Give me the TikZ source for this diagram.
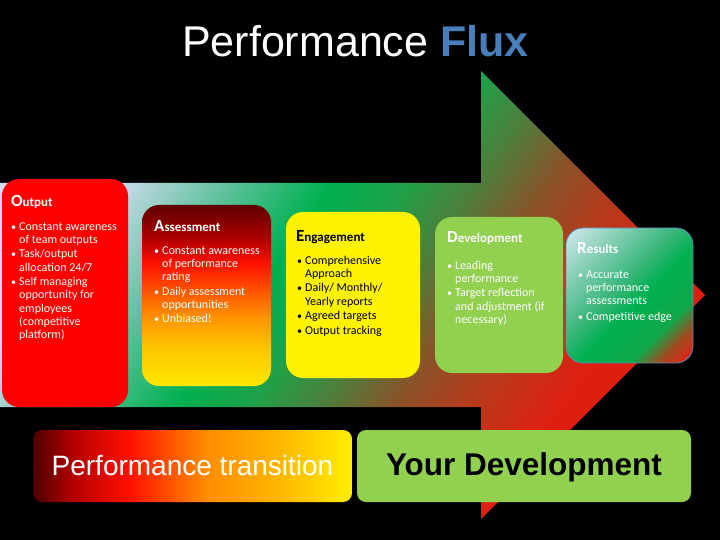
\documentclass[tikz,border=0pt]{standalone}
\usepackage{fontspec}
\setmainfont{Carlito}
\newfontfamily\arialf{Liberation Sans}
\definecolor{lav}{HTML}{D4DCF2}
\definecolor{tealA}{HTML}{5CC09A}
\definecolor{grnA}{HTML}{00B050}
\definecolor{grnB}{HTML}{20A048}
\definecolor{oliveA}{HTML}{4E7E3C}
\definecolor{brownA}{HTML}{8A5228}
\definecolor{brredA}{HTML}{B83A1C}
\definecolor{redA}{HTML}{E01E10}
\definecolor{asA}{HTML}{600000}
\definecolor{asB}{HTML}{B00000}
\definecolor{asC}{HTML}{FF1000}
\definecolor{asD}{HTML}{FF6000}
\definecolor{asE}{HTML}{FF9A00}
\definecolor{asF}{HTML}{FFC800}
\definecolor{asG}{HTML}{FFE800}
\definecolor{trA}{HTML}{4C0000}
\definecolor{trB}{HTML}{B00000}
\definecolor{trC}{HTML}{FF1000}
\definecolor{trD}{HTML}{FF8C00}
\definecolor{trE}{HTML}{FFB400}
\definecolor{trF}{HTML}{FFEE00}
\definecolor{rsA}{HTML}{C4E4E4}
\definecolor{rsB}{HTML}{40B880}
\definecolor{rsC}{HTML}{00B050}
\definecolor{rsD}{HTML}{10A84A}
\definecolor{rsE}{HTML}{A04A20}
\definecolor{rsF}{HTML}{D82818}
\definecolor{rsborder}{HTML}{5A8AB8}
\definecolor{devgreen}{HTML}{92D050}
\definecolor{fluxblue}{HTML}{4A7EBB}
\pgfdeclarehorizontalshading{arrowsh}{100bp}{color(0bp)=(lav); color(35.5bp)=(lav); color(41bp)=(tealA); color(45.5bp)=(grnA); color(49bp)=(grnB); color(52.2bp)=(oliveA); color(55.5bp)=(brownA); color(58.9bp)=(brredA); color(63.3bp)=(redA); color(100bp)=(redA)}
\pgfdeclareverticalshading{assesssh}{100bp}{color(0bp)=(asG); color(25bp)=(asG); color(35bp)=(asF); color(43bp)=(asE); color(50bp)=(asD); color(59bp)=(asC); color(65.5bp)=(asB); color(75bp)=(asA); color(100bp)=(asA)}
\pgfdeclarehorizontalshading{transsh}{100bp}{color(0bp)=(trA); color(25bp)=(trA); color(31bp)=(trB); color(40bp)=(trC); color(52bp)=(trD); color(63bp)=(trE); color(75bp)=(trF); color(100bp)=(trF)}
\pgfdeclarehorizontalshading{resultsh}{100bp}{color(0bp)=(rsA); color(29bp)=(rsA); color(45.5bp)=(rsB); color(52.5bp)=(rsC); color(62bp)=(rsD); color(67bp)=(rsE); color(71bp)=(rsF); color(100bp)=(rsF)}
\newcommand{\bitem}{\makebox[8pt][l]{\fontsize{10}{10}\selectfont\textbullet}}
\newcommand{\bcont}{\hspace*{8pt}}
\newcommand{\boxhead}[2]{{\bfseries\fontsize{17}{17}\selectfont #1}{\bfseries\fontsize{13}{13}\selectfont #2}}
\tikzset{
  bullets/.style={anchor=north west, inner sep=0pt, align=left, font=\fontsize{12}{13.2}\selectfont},
  heading/.style={anchor=base west, inner sep=0pt},
  card/.style={rounded corners=17pt},
}
\begin{document}
\begin{tikzpicture}[x=1pt,y=-1pt]
\useasboundingbox (0,0) rectangle (720,540);
\fill[black] (0,0) rectangle (720,540);
% big arrow
\begin{scope}
  \clip (0,183) -- (481,183) -- (481,71) -- (705,295) -- (481,519) -- (481,407) -- (0,407) -- cycle;
  \begin{scope}[transform canvas={rotate around={-35:(352,295)}}]
    \shade[shading=arrowsh] (-98,-155) rectangle (802,745);
  \end{scope}
\end{scope}
% title
\node[heading, text=white, font=\arialf\fontsize{43}{43}\selectfont] (title) at (182,57) {Performance \textcolor{fluxblue}{\bfseries Flux}};
% Output
\fill[card, red] (2,179) rectangle (128,407);
\node[heading, text=white] (outh) at (11,207) {\boxhead{O}{utput}};
\node[bullets, text=white] (outb) at (11,220.8) {\strut\bitem Constant awareness\\
\bcont of team outputs\\[1.3pt]
\bitem Task/output\\
\bcont allocation 24/7\\[1.3pt]
\bitem Self managing\\
\bcont opportunity for\\
\bcont employees\\
\bcont (competitive\\
\bcont platform)};
% Assessment
\shade[card, shading=assesssh] (142,205) rectangle (271,386);
\node[heading, text=white] (assh) at (154,232) {\boxhead{A}{ssessment}};
\node[bullets, text=white] (assb) at (154,244.8) {\strut\bitem Constant awareness\\
\bcont of performance\\
\bcont rating\\[1.3pt]
\bitem Daily assessment\\
\bcont opportunities\\[1.3pt]
\bitem Unbiased!};
% Engagement
\fill[card, yellow] (286,212) rectangle (420,378);
\node[heading, text=black] (engh) at (296,241) {\boxhead{E}{ngagement}};
\node[bullets, text=black] (engb) at (297,254.8) {\strut\bitem Comprehensive\\
\bcont Approach\\[1.3pt]
\bitem Daily/ Monthly/\\
\bcont Yearly reports\\[1.3pt]
\bitem Agreed targets\\[1.3pt]
\bitem Output tracking};
% Development
\fill[card, devgreen] (435,217) rectangle (563,373);
\node[heading, text=white] (devh) at (447,243) {\boxhead{D}{evelopment}};
\node[bullets, text=white] (devb) at (447,259.8) {\strut\bitem Leading\\
\bcont performance\\[1.3pt]
\bitem Target reflection\\
\bcont and adjustment (if\\
\bcont necessary)};
% Results
\begin{scope}
  \clip[card] (566,228) rectangle (693,363);
  \begin{scope}[transform canvas={rotate around={-45:(629.5,295.5)}}]
    \shade[shading=resultsh] (529.5,195.5) rectangle (729.5,395.5);
  \end{scope}
\end{scope}
\draw[card, draw=rsborder, line width=0.8pt] (566,228) rectangle (693,363);
\node[heading, text=white] (resh) at (577,254) {\boxhead{R}{esults}};
\node[bullets, text=white] (resb) at (578,268.8) {\strut\bitem Accurate\\
\bcont performance\\
\bcont assessments\\[3pt]
\bitem Competitive edge};
% bottom boxes
\shade[rounded corners=9pt, shading=transsh] (33,430) rectangle (352,502);
\node[anchor=base, inner sep=0pt, text=white, font=\arialf\fontsize{28}{28}\selectfont] (trans) at (192.5,475) {Performance transition};
\fill[rounded corners=9pt, devgreen] (357,430) rectangle (691,502);
\node[anchor=base, inner sep=0pt, text=black, font=\arialf\bfseries\fontsize{31.5}{31.5}\selectfont] (yourdev) at (524,475) {Your Development};
\end{tikzpicture}
\end{document}
